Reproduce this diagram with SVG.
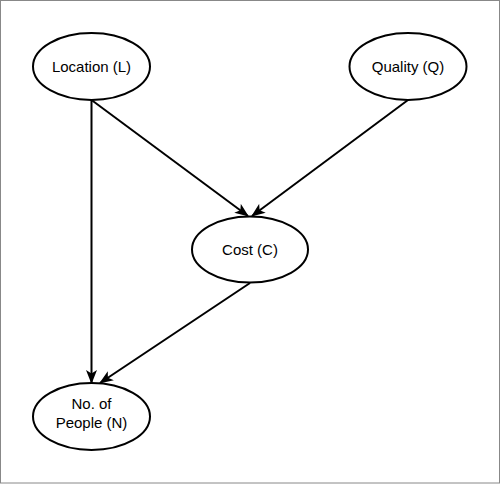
<svg xmlns="http://www.w3.org/2000/svg" width="500" height="484" viewBox="0 0 500 484">
<style>
.node ellipse{fill:#fff;stroke:#000;stroke-width:2}
.node text{font-family:"Liberation Sans",Arial,sans-serif;font-size:15px;fill:#000;text-anchor:middle}
.edge{stroke:#000;stroke-width:2;fill:none;marker-end:url(#arr)}
</style>
<defs>
<marker id="arr" viewBox="0 0 14 11" refX="13" refY="5.5" markerWidth="14" markerHeight="11" markerUnits="userSpaceOnUse" orient="auto">
<path d="M0,0 L14,5.5 L0,11 L3.5,5.5 Z" fill="#000"/>
</marker>
</defs>
<rect x="0.5" y="0.5" width="499" height="482.5" fill="#fff" stroke="#888" stroke-width="1"/>
<g id="edges">
<path class="edge" d="M91.5,100 L91.5,383"/>
<path class="edge" d="M91.5,100 L248,216"/>
<path class="edge" d="M408,100 L252,216"/>
<path class="edge" d="M250,283 L100,383"/>
</g>
<g id="node-L" class="node"><ellipse cx="91.5" cy="66.5" rx="58.5" ry="33.5"/><text x="91.5" y="72">Location (L)</text></g>
<g id="node-Q" class="node"><ellipse cx="408" cy="66.5" rx="58.5" ry="33.5"/><text x="408" y="72">Quality (Q)</text></g>
<g id="node-C" class="node"><ellipse cx="250" cy="249.5" rx="58" ry="33"/><text x="250" y="255">Cost (C)</text></g>
<g id="node-N" class="node"><ellipse cx="91.5" cy="416.5" rx="58.5" ry="33.5"/><text x="91.5" y="409">No. of</text><text x="91.5" y="427.5">People (N)</text></g>
</svg>
